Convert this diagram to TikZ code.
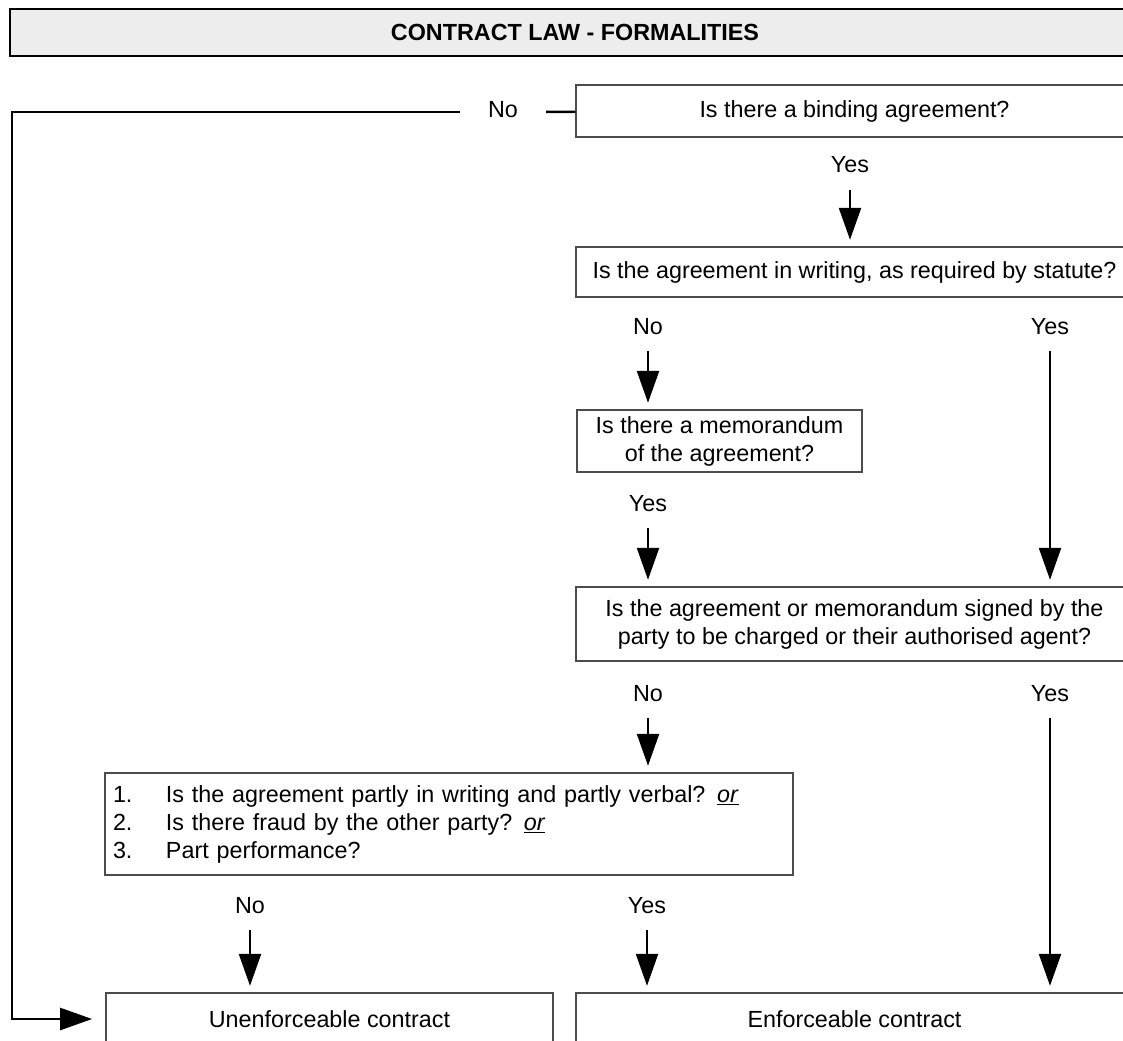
\documentclass[tikz,border=0pt]{standalone}
\usepackage{fontspec}
\setmainfont{Liberation Sans}
\usetikzlibrary{arrows.meta}

\begin{document}
\begin{tikzpicture}[x=0.75pt, y=-0.75pt,
    font=\fontsize{17.5}{21}\selectfont,
    box/.style={draw=black!70, line width=0.8pt, inner sep=2pt, align=center},
    lbl/.style={inner sep=3pt, text height=12.5pt, text depth=3.5pt},
    conn/.style={line width=1.8pt},
    arr/.style={conn, -{Triangle[length=24pt, width=16.5pt]}, shorten <=6pt, shorten >=5pt}]
        \useasboundingbox (0,0) rectangle (1123,1041);

        \node[draw, line width=1.5pt, fill=black!7, minimum width=847.5pt, minimum height=35.25pt,
              font=\fontsize{17.5}{21}\selectfont\bfseries] (title) at (575,32.5) {CONTRACT LAW - FORMALITIES};

        \node[box, minimum width=417.75pt, minimum height=39pt] (binding) at (854.5,111) {Is there a binding agreement?};
        \node[box, minimum width=417.75pt, minimum height=37.5pt] (writing) at (854.5,272) {Is the agreement in writing, as required by statute?};
        \node[box, minimum width=213.75pt, minimum height=46.5pt] (memo) at (719.5,441) {Is there a memorandum\\of the agreement?};
        \node[box, minimum width=417.75pt, minimum height=55.5pt] (signed) at (854.5,624) {Is the agreement or memorandum signed by the\\party to be charged or their authorised agent?};
        \node[box, minimum width=516pt, minimum height=76.5pt, text width=504pt, align=left] (exceptions) at (449,824)
            {\makebox[39.75pt][l]{1.}Is the agreement partly in writing and partly verbal? \underline{\textit{or}}\\
             \makebox[39.75pt][l]{2.}Is there fraud by the other party? \underline{\textit{or}}\\
             \makebox[39.75pt][l]{3.}Part performance?};
        \node[box, minimum width=335.25pt, minimum height=39pt] (unenf) at (329.5,1019) {Unenforceable contract};
        \node[box, minimum width=417.75pt, minimum height=39pt] (enf) at (854.5,1019) {Enforceable contract};

        \node[lbl, inner xsep=21pt] (noA) at (503,112) {No};
        \node[lbl] (yesA) at (850,167) {Yes};
        \node[lbl] (noB) at (648,328) {No};
        \node[lbl] (yesB) at (1050,328) {Yes};
        \node[lbl] (yesC) at (648,505) {Yes};
        \node[lbl] (noD) at (648,695) {No};
        \node[lbl] (yesD) at (1050,695) {Yes};
        \node[lbl] (noE) at (250,907) {No};
        \node[lbl] (yesE) at (647,907) {Yes};
        \coordinate (corner) at (12,1019);

        \draw[conn] (noA) -- (binding);
        \draw[conn, -{Triangle[length=24pt, width=16.5pt]}, shorten >=10pt] (noA) -| (corner) -- (unenf);
        \draw[arr] (yesA) -- (yesA |- writing.north);
        \draw[arr] (noB) -- (noB |- memo.north);
        \draw[arr] (yesB) -- (yesB |- signed.north);
        \draw[arr] (yesC) -- (yesC |- signed.north);
        \draw[arr] (noD) -- (noD |- exceptions.north);
        \draw[arr] (yesD) -- (yesD |- enf.north);
        \draw[arr] (noE) -- (noE |- unenf.north);
        \draw[arr] (yesE) -- (yesE |- enf.north);
      \end{tikzpicture}
\end{document}
